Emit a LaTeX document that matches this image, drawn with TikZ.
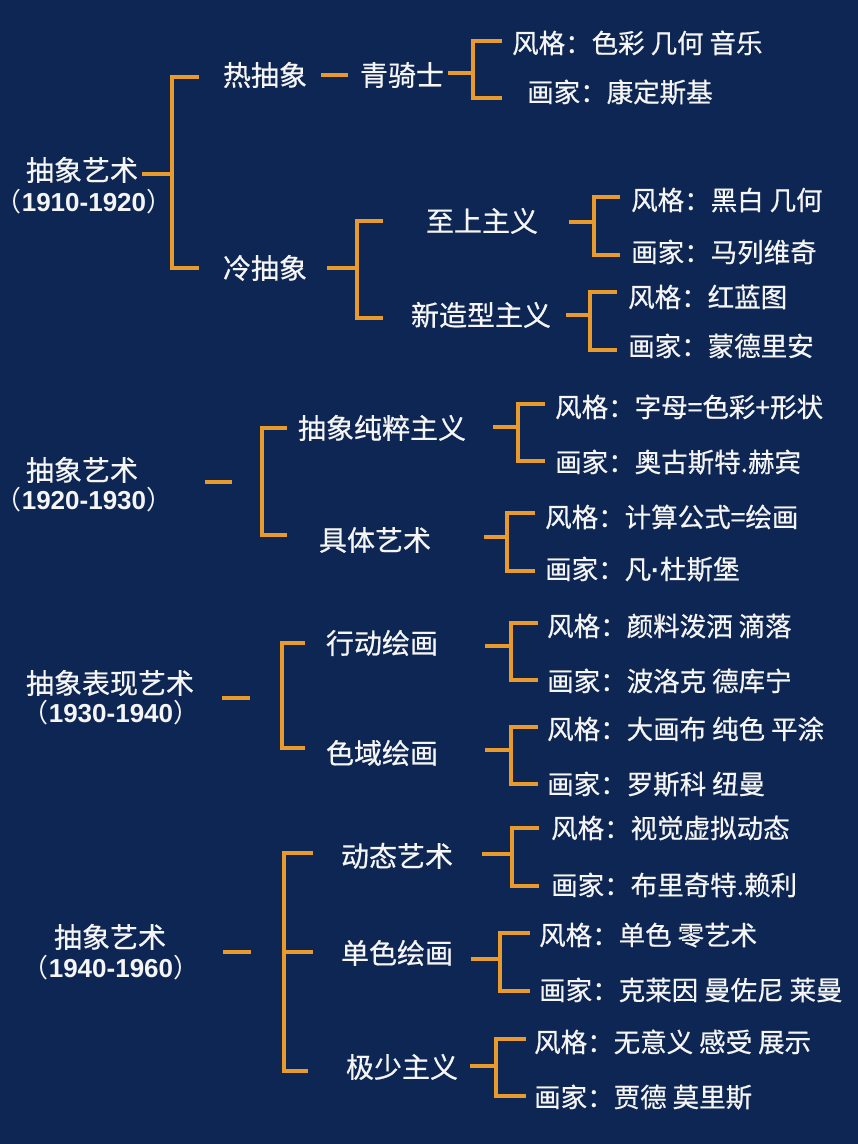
\documentclass[tikz,border=0pt]{standalone}
\usepackage{fontspec}
\newfontfamily\cjk[FakeBold=0.6]{Noto Sans CJK SC}
\newfontfamily\cjkp{Noto Sans CJK SC}
\newfontfamily\yrfont{Liberation Sans}
\definecolor{bg}{HTML}{0E2654}
\definecolor{org}{HTML}{E99A2C}
\definecolor{txt}{HTML}{F5F5F5}
\tikzset{
  br/.style={draw=org, line width=4.6pt, line cap=butt, line join=miter},
  main/.style={font=\cjk\fontsize{28}{32}\selectfont, text=txt, inner sep=0pt, text height=24.6pt, text depth=3.4pt},
  leaf/.style={font=\cjk\fontsize{26.5}{30}\selectfont, text=txt, inner sep=0pt, anchor=west, text height=23.3pt, text depth=3.2pt},
  yr/.style={font=\fontsize{26}{30}\selectfont, text=txt, inner sep=0pt, text height=18.6pt, text depth=0pt},
}
\newcommand{\yrs}[1]{{\cjkp （}{\yrfont\bfseries #1}{\cjkp ）}}
\begin{document}
\begin{tikzpicture}[x=1pt,y=-1pt]
\fill[bg] (0,0) rectangle (858,1144);
\useasboundingbox (0,0) rectangle (858,1144);

% ================= Section 1 =================
\node[main] (s1) at (82,170) {抽象艺术};
\node[yr] (s1y) at (84,202) {\yrs{1910-1920}};
\node[main] (re) at (265,75) {热抽象};
\node[main] (leng) at (265,268) {冷抽象};
\node[main] (qqs) at (402,75) {青骑士};
\node[leaf] (qqsA) at (512,43) {风格：色彩 几何 音乐};
\node[leaf] (qqsB) at (527,92) {画家：康定斯基};
\node[main] (zs) at (482,221) {至上主义};
\node[leaf] (zsA) at (631,200) {风格：黑白 几何};
\node[leaf] (zsB) at (631,252) {画家：马列维奇};
\node[main] (xzx) at (481,315) {新造型主义};
\node[leaf] (xzxA) at (628,297) {风格：红蓝图};
\node[leaf] (xzxB) at (628,346) {画家：蒙德里安};

\coordinate (j1) at (172,174);
\draw[br] ([xshift=4pt]s1.east |- j1) -- (j1);
\draw[br] (199,77) -- (172,77) -- (172,268) -- (199,268);
\draw[br] ([xshift=14pt]re.east) -- ([xshift=-12pt]qqs.west);
\coordinate (j2) at (473,73);
\draw[br] ([xshift=4pt]qqs.east |- j2) -- (j2);
\draw[br] (502,41) -- (473,41) -- (473,98) -- (502,98);
\coordinate (j3) at (357,268);
\draw[br] ([xshift=20pt]leng.east) -- (j3);
\draw[br] (383,221) -- (357,221) -- (357,318) -- (383,318);
\coordinate (j4) at (594,222);
\draw[br] ([xshift=31pt]zs.east |- j4) -- (j4);
\draw[br] (620,197) -- (594,197) -- (594,255) -- (620,255);
\coordinate (j5) at (590,315);
\draw[br] ([xshift=15pt]xzx.east) -- (j5);
\draw[br] (617,292) -- (590,292) -- (590,350) -- (617,350);

% ================= Section 2 =================
\node[main] (s2) at (82,470) {抽象艺术};
\node[yr] (s2y) at (84,500) {\yrs{1920-1930}};
\node[main] (cx) at (382,428) {抽象纯粹主义};
\node[main] (jt) at (375,540) {具体艺术};
\node[leaf] (cxA) at (555,407) {风格：字母=色彩+形状};
\node[leaf] (cxB) at (555,462) {画家：奥古斯特.赫宾};
\node[leaf] (jtA) at (545,517) {风格：计算公式=绘画};
\node[leaf] (jtB) at (545,569) {画家：凡{\yrfont\bfseries ·}杜斯堡};

\coordinate (d2) at (205,482);
\draw[br] (d2) -- ++(27,0);
\draw[br] (287,428) -- (262,428) -- (262,535) -- (287,535);
\coordinate (j6) at (518,427);
\draw[br] ([xshift=27pt]cx.east |- j6) -- (j6);
\draw[br] (545,404) -- (518,404) -- (518,461) -- (545,461);
\coordinate (j7) at (507,537);
\draw[br] ([xshift=53pt]jt.east |- j7) -- (j7);
\draw[br] (535,513) -- (507,513) -- (507,571) -- (535,571);

% ================= Section 3 =================
\node[main] (s3) at (110,683) {抽象表现艺术};
\node[yr] (s3y) at (111,713) {\yrs{1930-1940}};
\node[main] (xd) at (382,643) {行动绘画};
\node[main] (sy) at (382,753) {色域绘画};
\node[leaf] (xdA) at (547,626) {风格：颜料泼洒 滴落};
\node[leaf] (xdB) at (547,681) {画家：波洛克 德库宁};
\node[leaf] (syA) at (547,729) {风格：大画布 纯色 平涂};
\node[leaf] (syB) at (547,784) {画家：罗斯科 纽曼};

\coordinate (d3) at (222,698);
\draw[br] (d3) -- ++(28,0);
\draw[br] (305,643) -- (282,643) -- (282,748) -- (305,748);
\coordinate (j8) at (511,646);
\draw[br] ([xshift=47pt]xd.east |- j8) -- (j8);
\draw[br] (538,623) -- (511,623) -- (511,680) -- (538,680);
\coordinate (j9) at (511,750);
\draw[br] ([xshift=47pt]sy.east |- j9) -- (j9);
\draw[br] (538,727) -- (511,727) -- (511,784) -- (538,784);

% ================= Section 4 =================
\node[main] (s4) at (110,937) {抽象艺术};
\node[yr] (s4y) at (111,968) {\yrs{1940-1960}};
\node[main] (dt) at (397,856) {动态艺术};
\node[main] (ds) at (397,953) {单色绘画};
\node[main] (jsh) at (402,1067) {极少主义};
\node[leaf] (dtA) at (551,828) {风格：视觉虚拟动态};
\node[leaf] (dtB) at (551,885) {画家：布里奇特.赖利};
\node[leaf] (dsA) at (539,935) {风格：单色 零艺术};
\node[leaf] (dsB) at (539,990) {画家：克莱因 曼佐尼 莱曼};
\node[leaf] (jshA) at (534,1042) {风格：无意义 感受 展示};
\node[leaf] (jshB) at (534,1097) {画家：贾德 莫里斯};

\coordinate (d4) at (223,952);
\draw[br] (d4) -- ++(28,0);
\draw[br] (313,853) -- (284,853) -- (284,1071) -- (308,1071);
\coordinate (j10) at (284,952);
\draw[br] (j10) -- ++(29,0);
\coordinate (j11) at (512,854);
\draw[br] ([xshift=29pt]dt.east |- j11) -- (j11);
\draw[br] (539,828) -- (512,828) -- (512,886) -- (539,886);
\coordinate (j12) at (500,959);
\draw[br] ([xshift=18pt]ds.east |- j12) -- (j12);
\draw[br] (530,933) -- (500,933) -- (500,991) -- (530,991);
\coordinate (j13) at (496,1066);
\draw[br] ([xshift=12pt]jsh.east |- j13) -- (j13);
\draw[br] (526,1039) -- (496,1039) -- (496,1096) -- (526,1096);
\end{tikzpicture}
\end{document}
